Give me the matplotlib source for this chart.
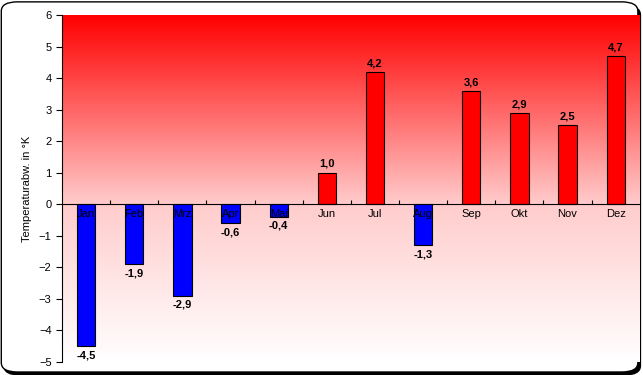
import numpy as np
import matplotlib
matplotlib.use("Agg")
import matplotlib.pyplot as plt
from matplotlib.patches import FancyBboxPatch
from matplotlib.colors import LinearSegmentedColormap

# Daten
monate = ["Jan", "Feb", "Mrz", "Apr", "Mai", "Jun", "Jul", "Aug", "Sep", "Okt", "Nov", "Dez"]
abweichung = [-4.5, -1.9, -2.9, -0.6, -0.4, 1.0, 4.2, -1.3, 3.6, 2.9, 2.5, 4.7]
y_ticks = [-5, -4, -3, -2, -1, 0, 1, 2, 3, 4, 5, 6]

plt.rcParams["font.family"] = ["Liberation Sans", "DejaVu Sans"]

fig = plt.figure(figsize=(6.43, 3.75), dpi=100)
fig.patch.set_facecolor("white")

# Rahmen mit Schatten
shadow = FancyBboxPatch((0.006, 0.0), 0.99, 0.985, boxstyle="round,pad=0,rounding_size=0.025",
                        transform=fig.transFigure, facecolor="black", edgecolor="black", zorder=-2)
frame = FancyBboxPatch((0.002, 0.008), 0.99, 0.987, boxstyle="round,pad=0,rounding_size=0.025",
                       transform=fig.transFigure, facecolor="white", edgecolor="black", lw=1, zorder=-1)
fig.patches.extend([shadow, frame])

ax = fig.add_axes([0.0964, 0.0347, 0.8986, 0.925])
ax.set_facecolor("none")

# Hintergrund-Verlauf
cmap = LinearSegmentedColormap.from_list(
    "bg", [(0.0, (1, 1, 1)), (5 / 11, (1, 0.8, 0.8)), (1.0, (1, 0, 0))])
grad = np.linspace(0, 1, 256).reshape(-1, 1)
ax.imshow(grad, cmap=cmap, aspect="auto", origin="lower",
          extent=[-0.5, 11.5, -5, 6], zorder=0)

x = np.arange(len(monate))
farben = ["#0000ff" if v < 0 else "#ff0000" for v in abweichung]
ax.bar(x, abweichung, width=0.38, color=farben, edgecolor="black", linewidth=0.8, zorder=2)

for xi, v, m in zip(x, abweichung, monate):
    txt = f"{v:.1f}".replace(".", ",")
    if v >= 0:
        ax.text(xi, v + 0.12, txt, ha="center", va="bottom", fontsize=8, fontweight="bold", zorder=3)
    else:
        ax.text(xi, v - 0.12, txt, ha="center", va="top", fontsize=8, fontweight="bold", zorder=3)
    ax.text(xi, -0.15, m, ha="center", va="top", fontsize=8, zorder=3)

ax.set_xlim(-0.5, 11.5)
ax.set_ylim(-5, 6)
ax.set_yticks(y_ticks)
ax.tick_params(axis="y", labelsize=8, length=4, width=0.8)
ax.set_ylabel("Temperaturabw. in °K", fontsize=8, labelpad=5)

ax.spines["top"].set_visible(False)
ax.spines["right"].set_visible(False)
ax.spines["bottom"].set_position(("data", 0))
ax.spines["bottom"].set_zorder(4)
ax.set_xticks(np.arange(0.5, 11, 1))
ax.set_xticklabels([])
ax.tick_params(axis="x", direction="in", length=3, width=0.8)

fig.savefig("out.png", dpi=100)
